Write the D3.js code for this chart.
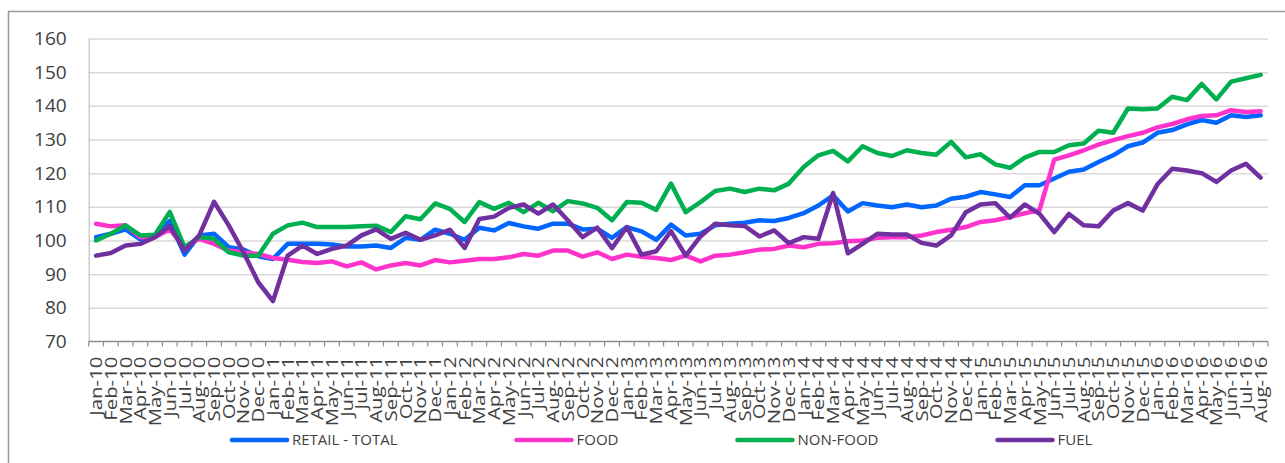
<!DOCTYPE html>
<html>
<head>
<meta charset="utf-8">
<script src="https://cdn.jsdelivr.net/npm/d3@7"></script>
<style>
  html, body { margin: 0; padding: 0; background: #fff; }
  svg { display: block; font-family: 'Open Sans', sans-serif; }
</style>
</head>
<body>
<div id="chart"></div>
<script>
// data
const monthNames = ['Jan', 'Feb', 'Mar', 'Apr', 'May', 'Jun', 'Jul', 'Aug', 'Sep', 'Oct', 'Nov', 'Dec'];
const years = ['10', '11', '12', '13', '14', '15', '16'];
const months = years.flatMap(y => monthNames.map(m => `${m}-${y}`)).slice(0, 80); // Jan-10 .. Aug-16

const yTicks = [70, 80, 90, 100, 110, 120, 130, 140, 150, 160];

const retailTotal = [
  101, 102, 103.3, 100.3, 101.5, 105.8, 95.8, 101.5, 102, 98,
  97.3, 95.3, 94.5, 99, 99, 99, 98.8, 98.2, 98.2, 98.5,
  97.8, 100.8, 100.2, 103.2, 102, 100.2, 103.8, 103, 105.2, 104.2,
  103.5, 105, 105, 103.3, 103.5, 100.8, 104, 102.7, 100.2, 104.7,
  101.5, 102, 104.5, 105, 105.3, 106, 105.8, 106.7, 108.1, 110.4,
  113.4, 108.6, 111.1, 110.4, 109.9, 110.7, 109.9, 110.4, 112.4, 113,
  114.4, 113.7, 112.9, 116.4, 116.4, 118.4, 120.4, 121.1, 123.3, 125.3,
  128, 129.1, 132, 132.8, 134.5, 135.8, 135, 137.2, 136.7, 137.2
];
const food = [
  105, 104.2, 104.5, 101, 101, 103.3, 98, 100.5, 99, 97,
  96.5, 96, 94.8, 94.3, 93.6, 93.3, 93.8, 92.3, 93.5, 91.4,
  92.6, 93.3, 92.6, 94.2, 93.5, 94, 94.5, 94.5, 95, 96,
  95.5, 97, 97, 95.2, 96.5, 94.5, 95.8, 95.2, 94.8, 94.2,
  95.5, 93.8, 95.5, 95.8, 96.5, 97.3, 97.5, 98.5, 98, 99,
  99.2, 99.8, 100, 100.8, 101, 101, 101.5, 102.5, 103.2, 104,
  105.5, 106, 107, 108.1, 109, 124, 125.3, 126.8, 128.5, 129.8,
  131, 132, 133.6, 134.6, 136, 137, 137.2, 138.7, 138.2, 138.4
];
const nonFood = [
  100, 102, 104.5, 101.5, 101.7, 108.5, 98, 101, 100.5, 96.5,
  95.5, 95.5, 102, 104.5, 105.3, 104, 104, 104, 104.2, 104.4,
  102.5, 107.2, 106.3, 111, 109.4, 105.5, 111.4, 109.4, 111.2, 108.4,
  111.2, 108.7, 111.7, 111, 109.7, 106, 111.4, 111.2, 109.1, 116.9,
  108.4, 111.4, 114.7, 115.4, 114.4, 115.4, 114.9, 116.9, 121.8, 125.3,
  126.6, 123.5, 128, 126, 125.1, 126.8, 126, 125.5, 129.3, 124.7,
  125.6, 122.6, 121.6, 124.6, 126.3, 126.3, 128.3, 128.8, 132.6, 132,
  139.2, 139, 139.2, 142.7, 141.7, 146.5, 141.9, 147.2, 148.2, 149.2
];
const fuel = [
  95.5, 96.3, 98.5, 99, 101, 104.3, 97, 101.5, 111.5, 104.5,
  96.5, 87.6, 82, 95.5, 98.5, 96, 97.5, 98.5, 101.5, 103.3,
  100.5, 102.3, 100.2, 101.5, 103.2, 97.8, 106.4, 107.1, 109.7, 110.7,
  108, 110.7, 106, 101, 103.8, 97.7, 104, 95.8, 96.8, 102.8,
  95.5, 101.2, 105, 104.5, 104.3, 101.2, 103, 99.2, 101, 100.5,
  114.1, 96.2, 99, 102, 101.8, 101.8, 99.3, 98.5, 101.5, 108.4,
  110.7, 111.1, 106.8, 110.7, 107.9, 102.5, 107.9, 104.5, 104.2, 108.9,
  111.1, 108.9, 116.7, 121.3, 120.8, 120, 117.4, 120.8, 122.8, 118.7
];

const seriesNames = ['RETAIL - TOTAL', 'FOOD', 'NON-FOOD', 'FUEL'];
const seriesValues = [retailTotal, food, nonFood, fuel];
const seriesColors = ['#0066ff', '#ff33cc', '#00b050', '#7030a0'];

// layout
const width = 1285, height = 463;
const plot = { left: 88.7, right: 1268, top: 38.5, bottom: 341.5 };
const textColor = '#404040';

const svg = d3.select('#chart').append('svg')
  .attr('width', width)
  .attr('height', height);

// chart area border (right and bottom edges fall outside the picture)
svg.append('rect')
  .attr('x', 8.5).attr('y', 11.5)
  .attr('width', width + 10).attr('height', height + 10)
  .attr('fill', '#fff')
  .attr('stroke', '#9a9a9a')
  .attr('stroke-width', 1.5);

const x = d3.scaleBand()
  .domain(months)
  .range([plot.left, plot.right])
  .padding(0);

const y = d3.scaleLinear()
  .domain([70, 160])
  .range([plot.bottom, plot.top]);

// gridlines
svg.append('g')
  .attr('class', 'gridline')
  .attr('transform', `translate(${plot.left},0)`)
  .call(d3.axisLeft(y).tickValues(yTicks.slice(1)).tickSize(-(plot.right - plot.left)).tickFormat(() => ''))
  .call(g => g.select('.domain').remove())
  .call(g => g.selectAll('line').attr('stroke', '#d9d9d9').attr('stroke-width', 1.5));

// y axis
svg.append('g')
  .attr('class', 'axis axis-y')
  .attr('transform', `translate(${plot.left},0)`)
  .call(d3.axisLeft(y).tickValues(yTicks).tickSize(0).tickPadding(22))
  .call(g => g.select('.domain').attr('stroke', '#bfbfbf').attr('stroke-width', 1.2))
  .call(g => g.selectAll('text')
    .attr('fill', textColor)
    .style('font-size', '19px')
    .style('font-family', "'Open Sans', sans-serif"));

// x axis: ticks between categories
const xAxis = svg.append('g')
  .attr('class', 'axis axis-x');

xAxis.append('line')
  .attr('x1', plot.left).attr('x2', plot.right)
  .attr('y1', plot.bottom).attr('y2', plot.bottom)
  .attr('stroke', '#8c8c8c')
  .attr('stroke-width', 1.5);

const tickPositions = months.map(m => x(m)).concat([x.range()[1]]);
xAxis.selectAll('.tick-mark')
  .data(tickPositions)
  .join('line')
  .attr('class', 'tick-mark')
  .attr('x1', d => d).attr('x2', d => d)
  .attr('y1', plot.bottom).attr('y2', plot.bottom + 5)
  .attr('stroke', '#8c8c8c')
  .attr('stroke-width', 1.2);

xAxis.selectAll('.tick-label')
  .data(months)
  .join('text')
  .attr('class', 'tick-label')
  .attr('transform', d => `translate(${x(d) + x.bandwidth() / 2 + 6},${plot.bottom + 15}) rotate(-90) scale(1.2,1)`)
  .attr('text-anchor', 'end')
  .attr('fill', textColor)
  .style('font-size', '17px')
  .text(d => d);

// lines
const line = d3.line()
  .x((d, i) => x(months[i]) + x.bandwidth() / 2)
  .y(d => y(d));

svg.append('g')
  .attr('class', 'lines')
  .selectAll('path')
  .data(seriesValues)
  .join('path')
  .attr('d', d => line(d))
  .attr('fill', 'none')
  .attr('stroke', (d, i) => seriesColors[i])
  .attr('stroke-width', 4.5)
  .attr('stroke-linejoin', 'round')
  .attr('stroke-linecap', 'round');

// legend
const legend = svg.append('g').attr('class', 'legend');
const legendY = 440;
let lx = 232;
seriesNames.forEach((name, i) => {
  const item = legend.append('g');
  item.append('line')
    .attr('x1', lx).attr('x2', lx + 55)
    .attr('y1', legendY).attr('y2', legendY)
    .attr('stroke', seriesColors[i])
    .attr('stroke-width', 4.5)
    .attr('stroke-linecap', 'round');
  const t = item.append('text')
    .attr('x', lx + 60)
    .attr('y', legendY)
    .attr('dy', '0.35em')
    .attr('fill', textColor)
    .style('font-size', '15px')
    .text(name);
  lx += 60 + t.node().getComputedTextLength() + 119;
});
</script>
</body>
</html>
